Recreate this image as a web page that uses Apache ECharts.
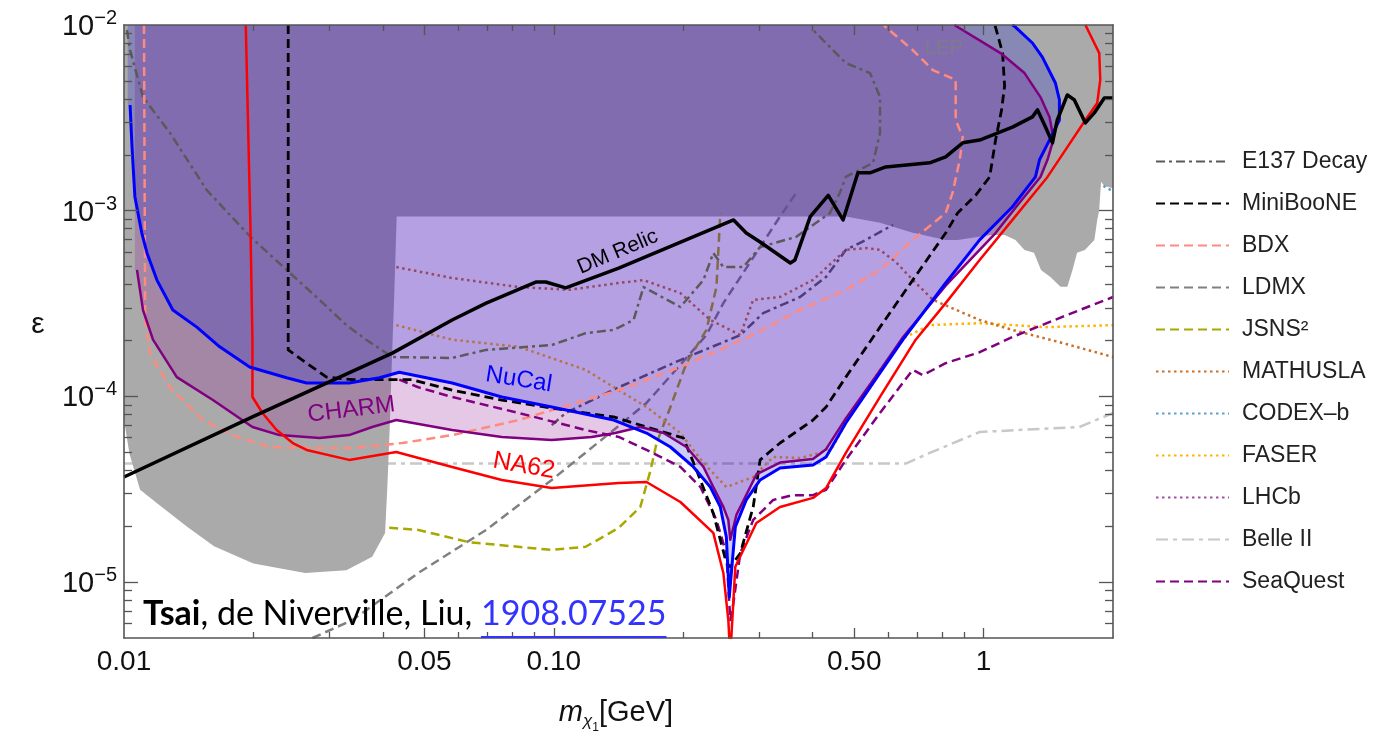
<!DOCTYPE html>
<html><head><meta charset="utf-8">
<script src="https://cdn.jsdelivr.net/npm/echarts@6/dist/echarts.min.js"></script>
<style>html,body{margin:0;padding:0;background:#fff}#c{width:1382px;height:732px}</style>
</head><body><div id="c"></div><script>
// ---------------- data (x = m in GeV, y = epsilon) ----------------
const grayRegion = [[0.0100,1.0e-2],[2.0,1.0e-2],[2.0,1.32e-3],[1.91,1.36e-3],[1.876,1.43e-3],[1.857,1.0e-3],[1.838,8.92e-4],[1.81,6.96e-4],[1.72,6.15e-4],[1.65,5.93e-4],[1.61,4.80e-4],[1.566,3.89e-4],[1.51,3.89e-4],[1.43,4.40e-4],[1.36,4.80e-4],[1.31,5.93e-4],[1.245,6.15e-4],[1.186,6.96e-4],[1.12,7.4e-4],[1.038,7.4e-4],[0.870,6.96e-4],[0.816,6.96e-4],[0.684,7.6e-4],[0.574,8.6e-4],[0.478,9.3e-4],[0.0431,9.3e-4],[0.0425,3.31e-4],[0.0420,1.57e-4],[0.0415,6.6e-5],[0.0410,3.3e-5],[0.0405,1.84e-5],[0.0378,1.37e-5],[0.0329,1.16e-5],[0.0264,1.12e-5],[0.0200,1.26e-5],[0.0162,1.56e-5],[0.0140,1.99e-5],[0.0121,2.59e-5],[0.0109,3.14e-5],[0.0103,4.9e-5],[0.0100,7.47e-5]];

const charmLine = [[0.01072,4.80e-4],[0.01107,2.92e-4],[0.01168,2.02e-4],[0.01327,1.27e-4],[0.0161,9.56e-5],[0.0199,6.84e-5],[0.0230,6.19e-5],[0.0285,5.97e-5],[0.0334,6.19e-5],[0.0378,6.84e-5],[0.0430,7.46e-5],[0.058,6.59e-5],[0.0757,6.05e-5],[0.0989,5.83e-5],[0.1225,6.05e-5],[0.139,6.35e-5],[0.159,6.84e-5],[0.180,6.35e-5],[0.2035,5.34e-5],[0.223,4.17e-5],[0.235,3.25e-5],[0.248,2.54e-5],[0.2547,2.16e-5],[0.2574,1.69e-5],[0.266,2.3e-5],[0.296,3.8e-5],[0.336,4.4e-5],[0.401,4.6e-5],[0.430,5.2e-5],[0.478,7.6e-5],[0.574,1.38e-4],[0.649,2.08e-4],[0.816,3.95e-4],[1.066,7.58e-4],[1.199,1.07e-3],[1.356,1.52e-3],[1.408,1.88e-3],[1.446,2.32e-3],[1.446,2.62e-3],[1.423,3.20e-3],[1.356,4.09e-3],[1.245,5.51e-3],[1.095,7.06e-3],[0.870,9.75e-3],[0.855,1.0e-2]];
const charmClose = [[0.0106,1.0e-2],[0.0106,4.8e-4]];

const nucalLine = [[0.01033,3.71e-3],[0.01044,2.20e-3],[0.0106,1.19e-3],[0.0110,7.58e-4],[0.01131,5.92e-4],[0.01193,4.23e-4],[0.01299,2.92e-4],[0.01477,2.36e-4],[0.0167,1.85e-4],[0.0196,1.44e-4],[0.0239,1.26e-4],[0.0266,1.18e-4],[0.0334,1.18e-4],[0.0393,1.26e-4],[0.0437,1.35e-4],[0.058,1.18e-4],[0.0757,9.93e-5],[0.0989,8.77e-5],[0.1378,7.46e-5],[0.1643,6.35e-5],[0.1868,5.34e-5],[0.2113,4.17e-5],[0.2313,3.25e-5],[0.244,2.54e-5],[0.252,1.75e-5],[0.256,8.3e-6],[0.2644,1.98e-5],[0.2804,2.77e-5],[0.302,3.55e-5],[0.336,4.12e-5],[0.401,4.27e-5],[0.430,4.72e-5],[0.478,7.19e-5],[0.574,1.34e-4],[0.649,2.02e-4],[0.816,4.08e-4],[0.979,6.96e-4],[1.167,1.05e-3],[1.320,1.52e-3],[1.349,1.88e-3],[1.423,2.40e-3],[1.501,3.08e-3],[1.501,3.95e-3],[1.469,4.87e-3],[1.370,6.72e-3],[1.299,8.0e-3],[1.186,9.75e-3],[1.167,1.0e-2]];
const nucalClose = [[0.0102,1.0e-2],[0.0102,3.71e-3]];

const na62Line = [[0.0192,1.0e-2],[0.0197,7.58e-4],[0.0199,2.02e-4],[0.0199,9.93e-5],[0.0210,8.14e-5],[0.02265,6.59e-5],[0.0247,5.61e-5],[0.0266,5.15e-5],[0.0334,4.55e-5],[0.0430,5.02e-5],[0.058,4.17e-5],[0.0757,3.55e-5],[0.0989,3.21e-5],[0.1416,3.42e-5],[0.1643,3.46e-5],[0.197,2.70e-5],[0.235,1.84e-5],[0.248,1.12e-5],[0.2547,6.25e-6],[0.256,5.0e-6],[0.2588,5.0e-6],[0.2644,1.21e-5],[0.296,2.08e-5],[0.336,2.54e-5],[0.401,2.84e-5],[0.430,3.21e-5],[0.478,4.96e-5],[0.574,9.93e-5],[0.695,2.02e-4],[0.816,3.18e-4],[0.979,5.43e-4],[1.167,8.92e-4],[1.408,1.52e-3],[1.566,2.20e-3],[1.725,3.08e-3],[1.838,3.80e-3],[1.868,5.06e-3],[1.858,7.06e-3],[1.725,1.0e-2]];

const minibooneLine = [[0.0241,1.0e-2],[0.0241,1.78e-4],[0.0266,1.51e-4],[0.0296,1.27e-4],[0.0340,1.23e-4],[0.0468,1.23e-4],[0.058,1.08e-4],[0.0757,9.56e-5],[0.0989,8.66e-5],[0.1378,7.75e-5],[0.1643,6.84e-5],[0.2002,5.97e-5],[0.2147,4.02e-5],[0.235,2.35e-5],[0.252,1.27e-5],[0.2574,1.21e-5],[0.2716,1.43e-5],[0.291,2.54e-5],[0.302,4.55e-5],[0.336,5.61e-5],[0.401,7.46e-5],[0.430,8.77e-5],[0.478,1.27e-4],[0.574,2.36e-4],[0.684,4.23e-4],[0.816,7.58e-4],[0.870,9.72e-4],[0.958,1.21e-3],[1.033,1.52e-3],[1.066,2.40e-3],[1.101,3.49e-3],[1.119,4.7e-3],[1.107,7.06e-3],[1.066,9.75e-3],[1.055,1.0e-2]];

const bdxLine = [[0.01113,1.0e-2],[0.0112,2.58e-4],[0.01149,1.71e-4],[0.0128,1.12e-4],[0.01526,7.46e-5],[0.0183,6.05e-5],[0.0218,5.34e-5],[0.0260,5.27e-5],[0.0340,5.27e-5],[0.0444,5.61e-5],[0.058,6.19e-5],[0.0829,7.46e-5],[0.1186,9.56e-5],[0.1416,1.08e-4],[0.197,1.44e-4],[0.2804,2.06e-4],[0.374,2.92e-4],[0.478,3.75e-4],[0.574,4.80e-4],[0.684,6.96e-4],[0.816,9.72e-4],[0.847,1.25e-3],[0.880,1.88e-3],[0.894,2.49e-3],[0.861,3.08e-3],[0.861,5.06e-3],[0.762,5.72e-3],[0.684,7.33e-3],[0.592,9.75e-3],[0.586,1.0e-2]];

const e137Line = [[0.01016,9.4e-3],[0.01033,7.33e-3],[0.01107,4.09e-3],[0.0128,2.62e-3],[0.01558,1.29e-3],[0.0197,7.22e-4],[0.0239,4.80e-4],[0.0285,3.31e-4],[0.0329,2.42e-4],[0.0366,2.02e-4],[0.0421,1.63e-4],[0.058,1.61e-4],[0.0696,1.78e-4],[0.0989,1.89e-4],[0.1186,2.19e-4],[0.1378,2.28e-4],[0.1533,2.58e-4],[0.1617,3.88e-4],[0.197,3.03e-4],[0.223,4.24e-4],[0.235,5.92e-4],[0.248,4.97e-4],[0.276,4.97e-4],[0.302,6.37e-4],[0.366,7.22e-4],[0.439,9.72e-4],[0.463,1.25e-3],[0.478,1.52e-3],[0.553,1.81e-3],[0.574,2.62e-3],[0.574,4.09e-3],[0.544,5.51e-3],[0.478,6.24e-3],[0.401,9.4e-3]];
const e137Line2 = [[0.0989,7.0e-5],[0.1066,8.14e-5],[0.1416,1.12e-4],[0.197,1.57e-4],[0.2716,2.14e-4],[0.307,2.81e-4],[0.374,3.43e-4],[0.430,4.40e-4],[0.478,6.15e-4],[0.532,6.96e-4],[0.615,8.38e-4]];

const ldmxLine = [[0.02745,5.0e-6],[0.0340,6.25e-6],[0.0484,1.12e-5],[0.0696,1.91e-5],[0.0989,3.55e-5],[0.1378,6.59e-5],[0.1643,9.22e-5],[0.197,1.48e-4],[0.2265,2.14e-4],[0.248,3.18e-4],[0.302,6.37e-4],[0.336,9.3e-4],[0.370,1.29e-3]];

const jsnsLine = [[0.0414,1.96e-5],[0.0484,1.91e-5],[0.0635,1.64e-5],[0.0989,1.49e-5],[0.1186,1.55e-5],[0.1416,1.96e-5],[0.159,2.54e-5],[0.168,4.02e-5],[0.1734,5.61e-5],[0.1868,8.77e-5],[0.2035,1.51e-4],[0.2265,2.28e-4],[0.239,3.88e-4],[0.244,9.72e-4]];

const faserLine = [[0.0430,2.42e-4],[0.058,2.02e-4],[0.0829,1.85e-4],[0.1186,1.39e-4],[0.1416,1.08e-4],[0.1643,8.77e-5],[0.197,6.35e-5],[0.223,4.38e-5],[0.252,3.25e-5],[0.291,3.68e-5],[0.324,4.72e-5],[0.374,4.66e-5],[0.416,4.96e-5],[0.446,5.34e-5],[0.497,8.46e-5],[0.574,1.39e-4],[0.659,2.09e-4],[0.749,2.42e-4],[0.979,2.48e-4],[1.393,2.36e-4],[2.0,2.42e-4]];

const mathuslaLine = [[0.0430,4.97e-4],[0.058,4.34e-4],[0.0829,3.88e-4],[0.1085,3.75e-4],[0.1416,4.08e-4],[0.1617,4.23e-4],[0.197,3.60e-4],[0.2313,2.58e-4],[0.2716,2.14e-4],[0.291,3.31e-4],[0.336,3.43e-4],[0.401,4.24e-4],[0.478,6.15e-4],[0.532,6.29e-4],[0.574,6.15e-4],[0.625,5.29e-4],[0.684,4.24e-4],[0.762,3.31e-4],[0.979,2.58e-4],[1.167,2.28e-4],[1.525,1.94e-4],[2.0,1.63e-4]];

const codexLine = [[1.90,1.36e-3],[2.0,1.27e-3]];
const lhcbLine = [];
const belleLine = [[0.0100,4.35e-5],[0.659,4.35e-5],[0.749,4.96e-5],[0.979,6.43e-5],[1.670,6.84e-5],[2.0,8.14e-5]];

const seaquestLine = [[0.0437,1.23e-4],[0.0484,1.12e-4],[0.058,9.93e-5],[0.0829,8.14e-5],[0.1186,6.59e-5],[0.1416,6.05e-5],[0.1643,5.15e-5],[0.197,4.17e-5],[0.2194,3.25e-5],[0.239,2.16e-5],[0.252,1.43e-5],[0.2574,6.25e-6],[0.2617,7.72e-6],[0.2716,1.43e-5],[0.291,2.16e-5],[0.324,2.77e-5],[0.360,2.94e-5],[0.401,2.94e-5],[0.430,3.14e-5],[0.478,4.55e-5],[0.574,8.14e-5],[0.684,1.39e-4],[0.722,1.30e-4],[0.816,1.51e-4],[0.979,1.73e-4],[1.167,2.09e-4],[1.525,2.68e-4],[2.0,3.43e-4]];

const relicLine = [[0.0100,3.68e-5],[0.0199,7.75e-5],[0.0421,1.71e-4],[0.058,2.58e-4],[0.0696,3.18e-4],[0.0908,4.13e-4],[0.0958,4.13e-4],[0.1066,3.84e-4],[0.1416,4.91e-4],[0.262,8.92e-4],[0.2804,7.58e-4],[0.302,6.78e-4],[0.355,5.23e-4],[0.364,5.43e-4],[0.395,9.3e-4],[0.435,1.21e-3],[0.471,8.92e-4],[0.510,1.60e-3],[0.544,1.60e-3],[0.592,1.72e-3],[0.749,1.81e-3],[0.816,1.95e-3],[0.894,2.32e-3],[0.979,2.40e-3],[1.167,2.82e-3],[1.299,3.20e-3],[1.335,3.49e-3],[1.393,2.82e-3],[1.446,2.32e-3],[1.484,3.08e-3],[1.566,4.20e-3],[1.626,3.95e-3],[1.725,2.97e-3],[1.809,3.36e-3],[1.909,4.04e-3],[2.0,4.04e-3]];

const labelTexts = ['DM Relic','NuCal','CHARM','NA62','LEP'];
const labelX = [0.1408, 0.0829, 0.0338, 0.0852, 0.808];
const labelY = [5.99e-4, 1.23e-4, 8.46e-5, 4.22e-5, 7.52e-3];

const xLabelValues = [0.01,0.05,0.1,0.5,1];
const xLabelTexts = ['0.01','0.05','0.10','0.50','1'];
const xMajorTicks = [0.05,0.1,0.5,1];
const xMinorTicks = [0.02,0.03,0.04,0.06,0.07,0.08,0.09,0.2,0.3,0.4,0.6,0.7,0.8,0.9];
const yLabelValues = [1e-5,1e-4,1e-3,1e-2];
const yMajorTicks = [1e-5,1e-4,1e-3];
const yMinorTicks = [6e-6,7e-6,8e-6,9e-6,2e-5,3e-5,4e-5,5e-5,6e-5,7e-5,8e-5,9e-5,2e-4,3e-4,4e-4,5e-4,6e-4,7e-4,8e-4,9e-4,2e-3,3e-3,4e-3,5e-3,6e-3,7e-3,8e-3,9e-3];

const legendNames = ['E137 Decay','MiniBooNE','BDX','LDMX','JSNS²','MATHUSLA','CODEX–b','FASER','LHCb','Belle II','SeaQuest'];

// ---------------- styles ----------------
const FONT = '"Liberation Sans", Arial, sans-serif';
const FRAME = '#555';
const DASH = [9,5], DOT = [2.5,3.5], DASHDOT = [9,4,3,4];

function lineSeries(name, data, color, width, type, z) {
  return {type:'line', name, data, z, symbol:'none', silent:true, animation:false, clip:true,
    lineStyle:{color, width, type, cap:'butt', join:'round'}, itemStyle:{color}};
}
function regionSeries(pts, color, z) {
  return {type:'custom', z, silent:true, clip:true, animation:false, data: pts,
    renderItem(params, api) {
      if (params.dataIndex !== 0) return null;
      return {type:'polygon', shape:{points: pts.map(p => api.coord(p))}, style:{fill: color}};
    }};
}
const labelColors = ['#000','#0000ff','#800080','#ff0000','rgba(125,125,135,0.9)'];
const labelRot = [23, -9, 7, -10, 0];
const labelSize = [21, 24, 24, 25, 20];

const chart = echarts.init(document.getElementById('c'), null, {renderer:'canvas'});

function xFmt(v) {
  for (let i = 0; i < xLabelValues.length; i++) if (Math.abs(Math.log10(v) - Math.log10(xLabelValues[i])) < 1e-6) return xLabelTexts[i];
  return '';
}
function yFmt(v) {
  const e = Math.round(Math.log10(v));
  return '{a|10}{b|−' + (-e) + '}';
}
const xBase = {type:'log', logBase:10, min:0.01, max:2, z:10, splitLine:{show:false}, minorTick:{show:false}};
const yBase = {type:'log', logBase:10, min:5e-6, max:1e-2, z:10, splitLine:{show:false}, minorTick:{show:false}};
const tickStyle = {color:FRAME, width:1.3};
const lineStyleAxis = {show:true, onZero:false, lineStyle:{color:FRAME, width:1.6}};

const option = {
  animation:false,
  backgroundColor:'#fff',
  grid:{left:124, top:25, width:989, height:613, containLabel:false},
  xAxis:[
    Object.assign({}, xBase, {position:'bottom', axisLine:lineStyleAxis,
      axisTick:{show:true, inside:true, length:10, lineStyle:tickStyle, customValues:xMajorTicks},
      axisLabel:{show:true, customValues:xLabelValues, formatter:xFmt, fontSize:28, fontFamily:FONT, color:'#111', margin:10}}),
    Object.assign({}, xBase, {position:'bottom', axisLine:{show:false},
      axisTick:{show:true, inside:true, length:6, lineStyle:tickStyle, customValues:xMinorTicks}, axisLabel:{show:false}}),
    Object.assign({}, xBase, {position:'top', axisLine:lineStyleAxis,
      axisTick:{show:true, inside:true, length:10, lineStyle:tickStyle, customValues:xMajorTicks}, axisLabel:{show:false}}),
    Object.assign({}, xBase, {position:'top', axisLine:{show:false},
      axisTick:{show:true, inside:true, length:6, lineStyle:tickStyle, customValues:xMinorTicks}, axisLabel:{show:false}})
  ],
  yAxis:[
    Object.assign({}, yBase, {position:'left', axisLine:lineStyleAxis,
      axisTick:{show:true, inside:true, length:14, lineStyle:tickStyle, customValues:yMajorTicks},
      axisLabel:{show:true, customValues:yLabelValues, formatter:yFmt, margin:7,
        rich:{a:{fontSize:29, fontFamily:FONT, color:'#111', lineHeight:33, verticalAlign:'bottom'},
              b:{fontSize:20, fontFamily:FONT, color:'#111', lineHeight:20, verticalAlign:'top'}}}}),
    Object.assign({}, yBase, {position:'left', axisLine:{show:false},
      axisTick:{show:true, inside:true, length:8, lineStyle:tickStyle, customValues:yMinorTicks}, axisLabel:{show:false}}),
    Object.assign({}, yBase, {position:'right', axisLine:lineStyleAxis,
      axisTick:{show:true, inside:true, length:14, lineStyle:tickStyle, customValues:yMajorTicks}, axisLabel:{show:false}}),
    Object.assign({}, yBase, {position:'right', axisLine:{show:false},
      axisTick:{show:true, inside:true, length:8, lineStyle:tickStyle, customValues:yMinorTicks}, axisLabel:{show:false}})
  ],
  legend:{orient:'vertical', left:1150, top:145, itemWidth:73, itemHeight:20, itemGap:19,
    data:legendNames, selectedMode:false, itemStyle:{opacity:0},
    textStyle:{fontSize:23, fontFamily:FONT, color:'#222', lineHeight:20, padding:[0,0,0,8]}},
  series:[
    lineSeries('Belle II', belleLine, '#c8c8c8', 2.5, [12,5,4,5], 1),
    regionSeries(grayRegion, '#aaaaaa', 2),
    lineSeries('LDMX', ldmxLine, '#808080', 2.5, DASH, 3),
    lineSeries('E137 Decay', e137Line2, '#5a5a5a', 2.5, DASHDOT, 3),
    lineSeries('JSNS²', jsnsLine, '#a8a800', 2.5, DASH, 3),
    lineSeries('FASER', faserLine, '#ffb400', 2.5, DOT, 3),
    lineSeries('MATHUSLA', mathuslaLine, '#c8702a', 2.5, DOT, 3),
    lineSeries('CODEX–b', codexLine, '#5aa0d2', 2.5, DOT, 3),
    lineSeries('LHCb', lhcbLine, '#a050a0', 2.5, DOT, 3),
    regionSeries(charmLine.concat(charmClose), 'rgba(142,26,151,0.24)', 4),
    regionSeries(nucalLine.concat(nucalClose), 'rgba(0,0,220,0.2)', 5),
    lineSeries('E137 Decay', e137Line, '#5a5a5a', 2.5, DASHDOT, 6),
    lineSeries('BDX', bdxLine, '#ff8a80', 2.5, DASH, 6),
    lineSeries('SeaQuest', seaquestLine, '#800080', 2.5, DASH, 6),
    lineSeries('MiniBooNE', minibooneLine, '#000000', 2.8, DASH, 6),
    lineSeries('CHARM', charmLine, '#800080', 2.5, 'solid', 7),
    lineSeries('NA62', na62Line, '#ff0000', 2.5, 'solid', 7),
    lineSeries('NuCal', nucalLine, '#0000ff', 3, 'solid', 7),
    lineSeries('DM Relic', relicLine, '#000000', 3.5, 'solid', 8),
    {type:'custom', z:9, silent:true, animation:false, clip:false,
      data: labelX.map((x,i) => [x, labelY[i]]),
      renderItem(params, api) {
        const i = params.dataIndex;
        const p = api.coord([labelX[i], labelY[i]]);
        return {type:'text', x:p[0], y:p[1], rotation: labelRot[i]*Math.PI/180,
          style:{text:labelTexts[i], fill:labelColors[i], fontSize:labelSize[i], fontFamily:FONT,
            align:'center', verticalAlign:'middle', textAlign:'center', textVerticalAlign:'middle'}};
      }}
  ]
};
chart.setOption(option);

// citation + axis names
const ctx = document.createElement('canvas').getContext('2d');
const CFONT = 'Lato, "Open Sans", sans-serif';
const CSIZE = 34;
ctx.font = 'bold ' + CSIZE + 'px ' + CFONT; const w1 = ctx.measureText('Tsai').width;
ctx.font = CSIZE + 'px ' + CFONT; const w2 = ctx.measureText(', de Niverville, Liu, ').width;
const w3 = ctx.measureText('1908.07525').width;
const cx0 = 143, cBase = 634;
chart.setOption({graphic:[
  {type:'text', x:cx0, y:cBase, z:100, silent:true,
    style:{text:'{b|Tsai}{n|, de Niverville, Liu, }{l|1908.07525}', verticalAlign:'bottom',
      rich:{b:{fontFamily:CFONT, fontSize:CSIZE, fontWeight:'bold', fill:'#000', lineHeight:40},
            n:{fontFamily:CFONT, fontSize:CSIZE, fill:'#000', lineHeight:40},
            l:{fontFamily:CFONT, fontSize:CSIZE, fill:'#3333ff', lineHeight:40}}}},
  {type:'line', z:100, silent:true, shape:{x1:cx0+w1+w2, y1:637, x2:cx0+w1+w2+w3, y2:637},
    style:{stroke:'#3333ff', lineWidth:2}},
  {type:'text', x:616, y:716, z:100, silent:true,
    style:{text:'{i|m}{s|χ}{t|1}{n|[GeV]}', align:'center', verticalAlign:'middle',
      rich:{i:{fontFamily:FONT, fontStyle:'italic', fontSize:29, fill:'#111', lineHeight:36, verticalAlign:'top'},
            s:{fontFamily:FONT, fontStyle:'italic', fontSize:17, fill:'#111', lineHeight:17, verticalAlign:'bottom', padding:[0,0,4,0]},
            t:{fontFamily:FONT, fontSize:12, fill:'#111', lineHeight:12, verticalAlign:'bottom'},
            n:{fontFamily:FONT, fontSize:29, fill:'#111', lineHeight:36, verticalAlign:'top'}}}},
  {type:'text', x:38, y:325, z:100, silent:true,
    style:{text:'ε', align:'center', verticalAlign:'middle', fontFamily:FONT, fontSize:30, fill:'#111'}}
]});
</script></body></html>
